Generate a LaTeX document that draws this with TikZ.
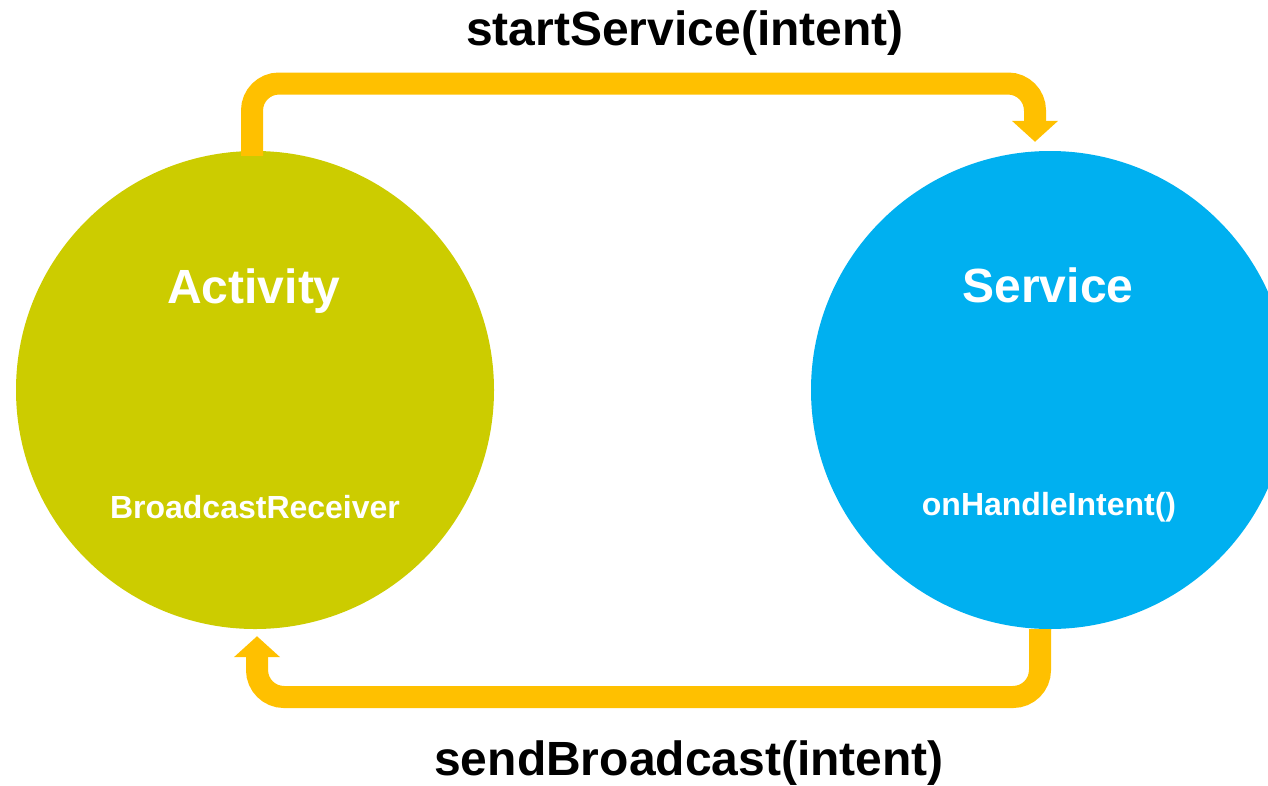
\documentclass[tikz,border=0pt]{standalone}
\usepackage{fontspec}
\setmainfont{Liberation Sans}
\usetikzlibrary{arrows.meta}
\definecolor{actcol}{RGB}{204,204,0}
\definecolor{srvcol}{RGB}{0,176,240}
\definecolor{flowcol}{RGB}{255,192,0}
\begin{document}
\begin{tikzpicture}[x=1pt,y=-1pt,
    ball/.style={circle,minimum size=478pt,inner sep=0pt},
    flow/.style={draw=flowcol,line width=22pt,rounded corners=27pt,
      -{Triangle[width=45pt,length=21pt]}},
    big/.style={anchor=base,font=\fontsize{48}{52}\selectfont\bfseries},
    small/.style={anchor=base,text=white,font=\fontsize{32}{36}\selectfont\bfseries}]
  \useasboundingbox (0,0) rectangle (1268,785);
  \clip (0,0) rectangle (1268,785);
  \node[ball,fill=actcol] (act) at (255,390) {};
  \node[ball,fill=srvcol] (srv) at (1050,390) {};
  \node[big,text=white] (actname) at (254,303) {Activity};
  \node[small] (recv) at (255,518) {BroadcastReceiver};
  \node[big,text=white] (srvname) at (1048,302) {Service};
  \node[small] (handle) at (1049,515) {onHandleIntent()};
  % calls between the two
  \coordinate (a1) at ([shift={(-3,5)}]act.north);
  \coordinate (s1) at ([shift={(-15,-9)}]srv.north);
  \draw[flow] (a1) -- (a1 |- 0,83.5) -| (s1);
  \coordinate (s2) at ([shift={(-10,0)}]srv.south);
  \coordinate (a2) at ([shift={(2,7)}]act.south);
  \draw[flow] (s2) -- (s2 |- 0,697) -| (a2);
  \node[big] (start) at (685,45) {startService(intent)};
  \node[big] (send) at (689,775) {sendBroadcast(intent)};
\end{tikzpicture}
\end{document}
